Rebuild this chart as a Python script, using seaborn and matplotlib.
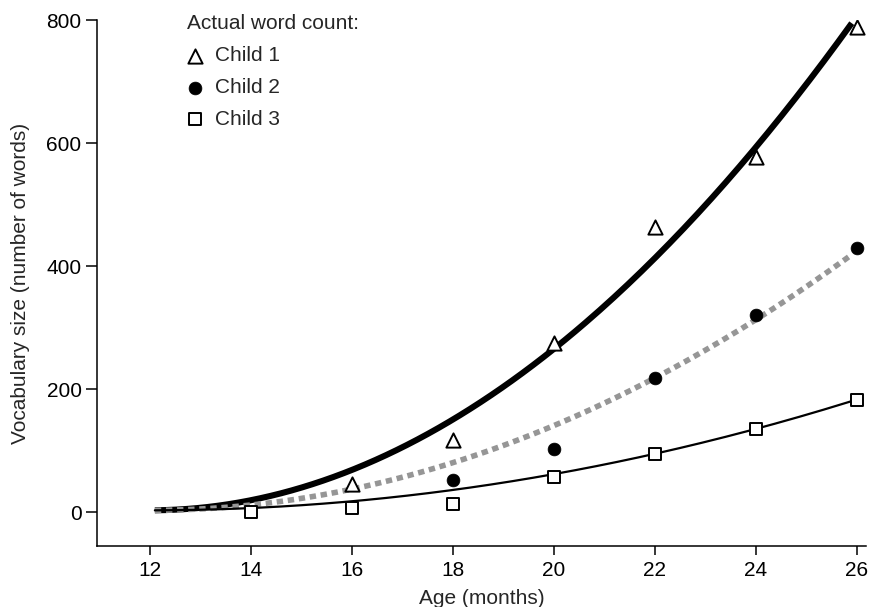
import numpy as np
import pandas as pd
import matplotlib.pyplot as plt
import seaborn as sns

# word counts
ages_1 = [16, 18, 20, 22, 24, 26]
words_1 = [45, 117, 275, 463, 577, 789]
ages_2 = [18, 20, 22, 24, 26]
words_2 = [52, 102, 218, 320, 429]
ages_3 = [14, 16, 18, 20, 22, 24, 26]
words_3 = [0, 6, 14, 57, 94, 135, 182]
labels = ["Child 1", "Child 2", "Child 3"]
x_ticks = [12, 14, 16, 18, 20, 22, 24, 26]
y_ticks = [0, 200, 400, 600, 800]

sns.set_theme(style="ticks")
plt.rcParams['font.family'] = ['Liberation Sans', 'DejaVu Sans']
plt.rcParams['font.size'] = 15

fig = plt.figure(figsize=(8.72, 6.07), dpi=100)
ax = fig.add_axes([0.111, 0.1005, 0.882, 0.8665])

# growth curves: least squares fit of words = a * (age - 12)^2
grid = np.linspace(12.1, 25.9, 200)
def fit_curve(ages, words):
    u = np.array(ages) - 12.0
    a = np.sum(u**2 * np.array(words)) / np.sum(u**4)
    return pd.DataFrame({"age": grid, "words": a * (grid - 12.0)**2 + 3})

sns.lineplot(data=fit_curve(ages_1, words_1), x="age", y="words", ax=ax,
             color="black", lw=4.4, solid_capstyle="butt", zorder=2)
sns.lineplot(data=fit_curve(ages_2, words_2), x="age", y="words", ax=ax,
             color="#969696", lw=4.0, zorder=2,
             linestyle=(0, (1.15, 0.85)), dash_capstyle="butt")
sns.lineplot(data=fit_curve(ages_3, words_3), x="age", y="words", ax=ax,
             color="black", lw=1.6, zorder=2)

sns.scatterplot(x=ages_1, y=words_1, ax=ax, marker="^", s=105, facecolor="white",
                edgecolor="black", linewidth=1.4, label=labels[0], zorder=3)
sns.scatterplot(x=ages_2, y=words_2, ax=ax, marker="o", s=85, color="black",
                edgecolor="black", linewidth=0.5, label=labels[1], zorder=3)
sns.scatterplot(x=ages_3, y=words_3, ax=ax, marker="s", s=80, facecolor="white",
                edgecolor="black", linewidth=1.4, label=labels[2], zorder=3)

ax.set_xlim(10.95, 26.18)
ax.set_ylim(-55, 800)
ax.set_xticks(x_ticks)
ax.set_yticks(y_ticks)
ax.tick_params(axis="y", direction="out", length=8, width=1.1, labelsize=15, colors="black", pad=3)
ax.tick_params(axis="x", direction="out", length=6.5, width=1.1, labelsize=15, colors="black", pad=4)
ax.spines[["top", "right"]].set_visible(False)
for s in ["left", "bottom"]:
    ax.spines[s].set_linewidth(1.1)
    ax.spines[s].set_color("black")
ax.set_xlabel("Age (months)", fontsize=15, labelpad=7)
ax.set_ylabel("Vocabulary size (number of words)", fontsize=15, labelpad=12)

leg = ax.legend(title="Actual word count:", loc="upper left", bbox_to_anchor=(0.106, 1.027),
                frameon=False, fontsize=15, title_fontsize=15, handlelength=0.8,
                handletextpad=0.55, labelspacing=0.62, alignment="left", borderaxespad=0)

fig.savefig("out.png", dpi=100)
